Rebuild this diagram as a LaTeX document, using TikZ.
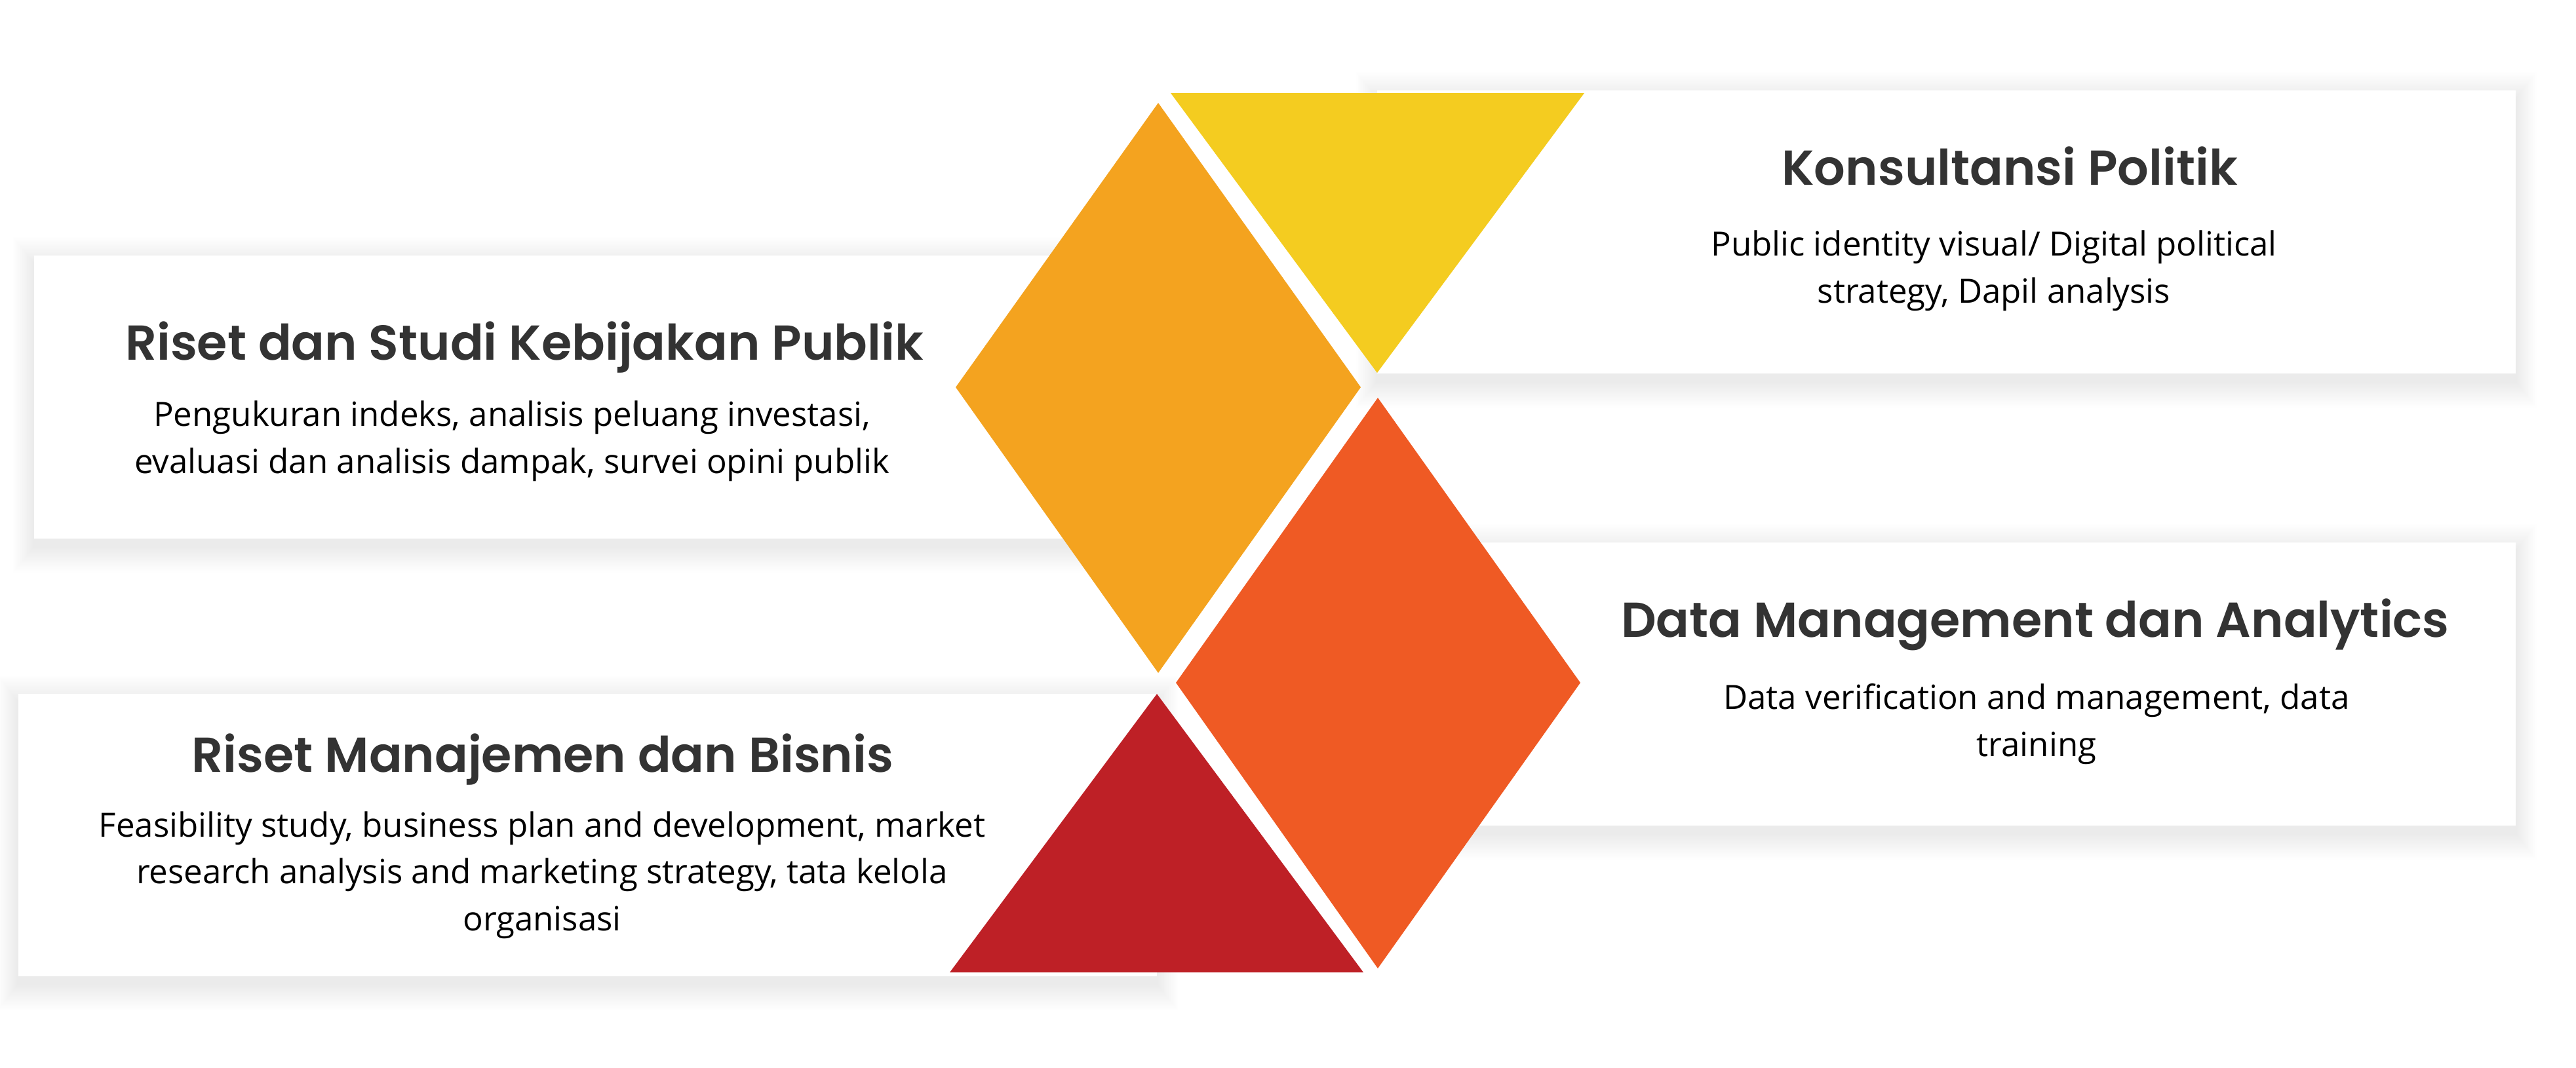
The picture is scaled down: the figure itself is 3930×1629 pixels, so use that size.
\documentclass[tikz,border=0pt]{standalone}
\usepackage{fontspec}
\setmainfont{Open Sans}
\newfontfamily\headfont{Poppins SemiBold}
\usetikzlibrary{positioning}
\usetikzlibrary{calc}
\definecolor{yellowtri}{HTML}{F4CC20}
\definecolor{orangedia}{HTML}{F4A31F}
\definecolor{reddia}{HTML}{EF5A24}
\definecolor{redtri}{HTML}{BE2026}
\definecolor{headgray}{HTML}{333333}

\begin{document}
\begin{tikzpicture}[x=0.01cm,y=-0.01cm]
\tikzstyle{heading}=[font=\headfont\fontsize{21.3}{25}\selectfont,text=headgray,anchor=base,inner sep=0pt]
\tikzstyle{desc}=[font=\fontsize{14.5}{20.2}\selectfont,text=black,align=center,anchor=base,inner sep=0pt]
\tikzstyle{cardshadow}=[fill=black,opacity=0.0028]

\useasboundingbox (0,0) rectangle (3930,1629);

\coordinate (kebijakan nw) at (52,390);
\coordinate (kebijakan se) at (1765,822);
\coordinate (politik nw) at (2101,138);
\coordinate (politik se) at (3838,570);
\coordinate (data nw) at (2101,828);
\coordinate (data se) at (3838,1260);
\coordinate (bisnis nw) at (28,1059);
\coordinate (bisnis se) at (1765,1490);

\foreach \c in {kebijakan,politik,data,bisnis}{
  \foreach \e in {2,4,...,40}
    \fill[cardshadow] ($(\c\space nw)+(-0.8*\e,12-\e)$) rectangle ($(\c\space se)+(0.8*\e,12+\e)$);
}
\foreach \c in {kebijakan,politik,data,bisnis}
  \fill[white] (\c\space nw) rectangle (\c\space se);

\fill[yellowtri] (1786,142) -- (2417,142) -- (2101,569) -- cycle;
\fill[orangedia] (1767,157) -- (2076,591) -- (1767,1027) -- (1458,591) -- cycle;
\fill[reddia] (2102,607) -- (2411,1042) -- (2102,1478) -- (1794,1042) -- cycle;
\fill[redtri] (1765,1059) -- (2080,1484) -- (1449,1484) -- cycle;

\node[heading](kebijakan title) at (800,549){Riset dan Studi Kebijakan Publik};
\node[desc](kebijakan text) at (781,722){Pengukuran indeks, analisis peluang investasi,\\evaluasi dan analisis dampak, survei opini publik};

\node[heading](politik title) at (3066,282){Konsultansi Politik};
\node[desc](politik text) at (3042,462){Public identity visual/ Digital political\\strategy, Dapil analysis};

\node[heading](data title) at (3105,972){Data Management dan Analytics};
\node[desc](data text) at (3107,1154){Data verification and management, data\\training};

\node[heading](bisnis title) at (828,1178){Riset Manajemen dan Bisnis};
\node[desc](bisnis text) at (827,1420){Feasibility study, business plan and development, market\\research analysis and marketing strategy, tata kelola\\organisasi};
\end{tikzpicture}
\end{document}
